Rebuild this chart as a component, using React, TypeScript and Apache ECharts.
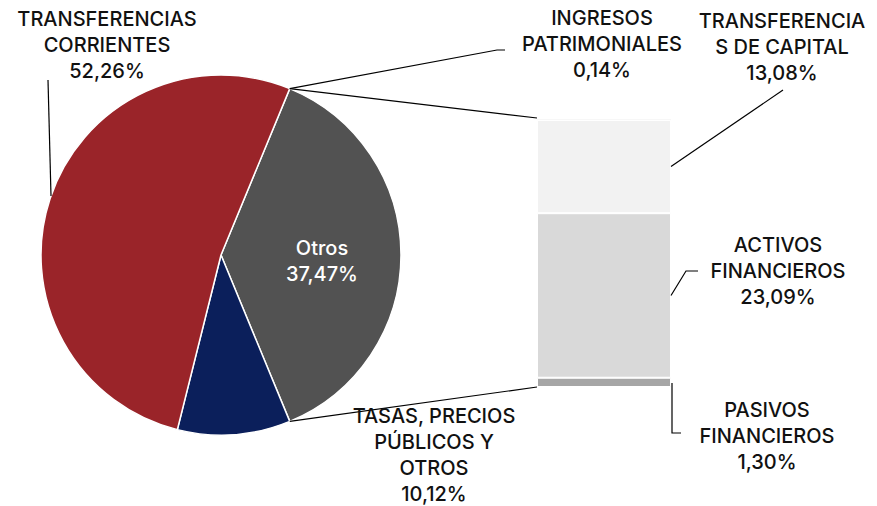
import React, { useEffect, useRef } from "react";
import * as echarts from "echarts";

// ---- data ----
const pieNames = ["Otros", "TASAS, PRECIOS PÚBLICOS Y OTROS", "TRANSFERENCIAS CORRIENTES"];
const pieValues = [37.47, 10.12, 52.26];
const pieColors = ["#525252", "#0B1F5B", "#9A2429"];

const barNames = ["PASIVOS FINANCIEROS", "ACTIVOS FINANCIEROS", "TRANSFERENCIAS DE CAPITAL", "INGRESOS PATRIMONIALES"];
const barValues = [1.3, 23.09, 13.08, 0.14];
const barColors = ["#A6A6A6", "#D9D9D9", "#F2F2F2", "#F7F7F7"];

// wrapped label text (as printed in the chart)
const pieLabelText = ["Otros", "TASAS, PRECIOS\nPÚBLICOS Y\nOTROS", "TRANSFERENCIAS\nCORRIENTES"];
const barLabelText = ["PASIVOS\nFINANCIEROS", "ACTIVOS\nFINANCIEROS", "TRANSFERENCIA\nS DE CAPITAL", "INGRESOS\nPATRIMONIALES"];

// ---- layout ----
const CX = 221, CY = 255, R = 180;
const BAR_LEFT = 537, BAR_TOP = 119, BAR_W = 134, BAR_H = 268;
const pieLabelPos = [[322, 248], [434, 416], [107, 19]];
const barLabelPos = [[767, 410], [778, 245], [782, 21], [602, 18]];
const FONT = "Inter";
const LH = 26;

const fmt = (v: number) => v.toFixed(2).replace(".", ",") + "%";

export default function App() {
  const ref = useRef<HTMLDivElement>(null);
  useEffect(() => {
    if (!ref.current) return;
    const chart = echarts.init(ref.current, undefined, { renderer: "svg" });
    const pieTotal = pieValues.reduce((a, b) => a + b, 0);
    const barTotal = barValues.reduce((a, b) => a + b, 0);
    const half = (pieValues[0] / pieTotal) * 180;
    const rad = (d: number) => (d * Math.PI) / 180;
    const topPt = [CX + R * Math.cos(rad(half)), CY - R * Math.sin(rad(half))];
    const botPt = [CX + R * Math.cos(rad(half)), CY + R * Math.sin(rad(half))];

    const textEl = (txt: string, x: number, y: number, fill = "#111") => ({
      type: "text",
      x,
      y,
      style: {
        text: txt,
        fill,
        font: `500 20px "${FONT}"`,
        lineHeight: LH,
        align: "center",
        verticalAlign: "top",
      },
      z: 10,
    });

    const graphics: any[] = [];
    pieLabelText.forEach((t, i) => {
      const [x, y] = pieLabelPos[i];
      graphics.push(textEl(t + "\n" + fmt(pieValues[i]), x, y - LH / 2, i === 0 ? "#fff" : "#111"));
    });
    barLabelText.forEach((t, i) => {
      const [x, y] = barLabelPos[i];
      graphics.push(textEl(t + "\n" + fmt(barValues[i]), x, y - LH / 2));
    });

    const line = (pts: number[][]) => ({
      type: "polyline",
      shape: { points: pts },
      style: { stroke: "#000", lineWidth: 1.2, fill: "none" },
      z: 5,
    });
    graphics.push(line([topPt, [BAR_LEFT, BAR_TOP - 1]]));
    graphics.push(line([botPt, [BAR_LEFT, BAR_TOP + BAR_H]]));
    const segY = (idx: number) => {
      let below = 0;
      for (let k = 0; k < idx; k++) below += barValues[k];
      const mid = below + barValues[idx] / 2;
      return BAR_TOP + BAR_H - (mid / barTotal) * BAR_H;
    };
    const right = BAR_LEFT + BAR_W;
    graphics.push(line([topPt, [497, 50], [505, 50]]));
    graphics.push(line([[right, segY(2)], [783, 90]]));
    graphics.push(line([[right, segY(1)], [686, 271], [698, 271]]));
    graphics.push(line([[right + 1, BAR_TOP + BAR_H - 4], [right + 1, 433], [681, 433]]));
    graphics.push(line([[48, 80], [51, 196]]));

    chart.setOption({
      animation: false,
      grid: { left: BAR_LEFT, top: BAR_TOP, width: BAR_W, height: BAR_H },
      xAxis: { type: "category", data: ["Otros"], show: false },
      yAxis: { type: "value", min: 0, max: barTotal, show: false },
      series: [
        {
          type: "pie",
          center: [CX, CY],
          radius: R,
          startAngle: half,
          clockwise: true,
          label: { show: false },
          labelLine: { show: false },
          itemStyle: { borderColor: "#fff", borderWidth: 1.5 },
          emphasis: { disabled: true },
          data: pieNames.map((n, i) => ({ name: n, value: pieValues[i], itemStyle: { color: pieColors[i] } })),
        },
        ...barNames.map((n, i) => ({
          type: "bar",
          name: n,
          stack: "otros",
          barWidth: "100%",
          data: [barValues[i]],
          itemStyle: { color: barColors[i], borderColor: "#fff", borderWidth: i === 3 ? 0 : 1 },
          emphasis: { disabled: true },
        })),
      ],
      graphic: graphics,
    });
    return () => chart.dispose();
  }, []);
  return <div ref={ref} style={{ position: "absolute", left: 0, top: 0, width: 877, height: 506 }} />;
}
